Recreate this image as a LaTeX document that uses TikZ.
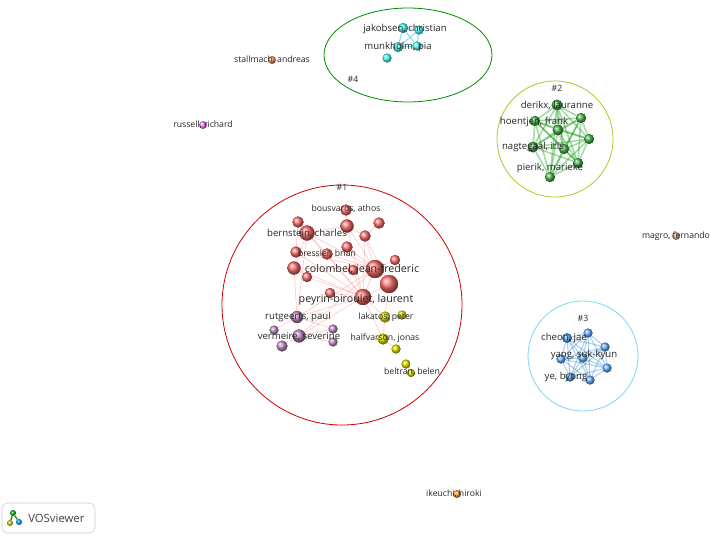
\documentclass[tikz,border=0pt]{standalone}
\usepackage{fontspec}
\setmainfont{Open Sans}
\begin{document}
\begin{tikzpicture}[x=0.75pt,y=-0.75pt,
  dot/.style={circle,inner sep=0pt,minimum size=#1*0.75pt,draw=none},
  lb/.style={font=\fontsize{6.5}{7}\selectfont,text=black!85,inner sep=0pt},
  lbm/.style={font=\fontsize{7.2}{8}\selectfont,text=black!85,inner sep=0pt},
  lbb/.style={font=\fontsize{8}{9}\selectfont,text=black!85,inner sep=0pt},
  red/.style={dot=#1,fill=red!60!white,ball color=red!55!white},
  pur/.style={dot=#1,ball color=violet!45!white},
  yel/.style={dot=#1,ball color=yellow!80!olive},
  grn/.style={dot=#1,ball color=green!60!black!70!white},
  blu/.style={dot=#1,ball color=cyan!50!blue!60!white},
  cya/.style={dot=#1,ball color=cyan!70!white},
  re/.style={red!40,opacity=0.5,line width=0.5pt},
  ge/.style={green!60!black,opacity=0.35,line width=1.2pt},
  be/.style={cyan!60!blue,opacity=0.35,line width=0.8pt},
  ce/.style={cyan!70,opacity=0.6,line width=0.8pt}]
\useasboundingbox (0,0) rectangle (710,537);
\fill[white] (0,0) rectangle (710,537);
% cluster outlines
\draw[red!80!black,line width=0.6pt] (342,305) circle[radius=120];
\draw[yellow!70!green!90!black,line width=0.6pt] (555,139) circle[radius=58];
\draw[cyan!50,line width=0.6pt] (583,356) circle[radius=55];
\draw[green!55!black,line width=0.6pt] (408,55) ellipse[x radius=84,y radius=47];
% nodes cluster 1
\node[red=11] (r1) at (346,210) {};
\node[red=11] (r2) at (298,222) {};
\node[red=13] (r3) at (347,226) {};
\node[red=11] (r4) at (379,223) {};
\node[red=15] (r5) at (307,233) {};
\node[red=11] (r6) at (365,236) {};
\node[red=11] (r7) at (347,247) {};
\node[red=11] (r8) at (296,252) {};
\node[red=11] (r9) at (327,254) {};
\node[red=10] (r10) at (395,260) {};
\node[red=18] (r11) at (375,269) {};
\node[red=13] (r12) at (294,268) {};
\node[red=10] (r13) at (307,277) {};
\node[red=10] (r14) at (353,270) {};
\node[red=18] (r15) at (389,284) {};
\node[red=10] (r16) at (330,293) {};
\node[red=16] (r17) at (363,297) {};
\node[pur=12] (p1) at (297,317) {};
\node[pur=9] (p2) at (274,330) {};
\node[pur=9] (p3) at (333,329) {};
\node[pur=13] (p4) at (299,336) {};
\node[pur=11] (p5) at (282,346) {};
\node[pur=9] (p6) at (333,342) {};
\node[yel=11] (y1) at (385,317) {};
\node[yel=9] (y2) at (402,315) {};
\node[yel=11] (y3) at (383,339) {};
\node[yel=9] (y4) at (396,349) {};
\node[yel=9] (y5) at (406,364) {};
\node[yel=8] (y6) at (411,373) {};
\begin{scope}[on background layer/.try]
\end{scope}
\foreach \a/\b in {r5/r3,r5/r9,r5/r12,r5/r2,r5/r17,r3/r6,r3/r11,r6/r11,r6/r15,r4/r6,r7/r11,r9/r11,r9/r17,r11/r17,r11/r15,r11/r12,r12/r17,r13/r17,r16/r17,r15/r17,r10/r11,r8/r11,r2/r8,r14/r17,r5/r11,r3/r17,r1/r3,r12/r13,r8/r17,r6/r17,r17/p1,r17/p4,r11/p1,r17/y1,r17/y3,r15/y1,r12/p1,p1/p4,p1/p2,p4/p5,p4/p6,p3/p4,p1/p3,y1/y3,y1/y2,y3/y4,r11/p4,r5/p1}
  \draw[re] (\a) -- (\b);
% redraw dots over lines
\foreach \n/\s/\c in {r1/11/red,r2/11/red,r3/13/red,r4/11/red,r5/15/red,r6/11/red,r7/11/red,r8/11/red,r9/11/red,r10/10/red,r11/18/red,r12/13/red,r13/10/red,r14/10/red,r15/18/red,r16/10/red,r17/16/red,p1/12/pur,p2/9/pur,p3/9/pur,p4/13/pur,p5/11/pur,p6/9/pur,y1/11/yel,y2/9/yel,y3/11/yel,y4/9/yel,y5/9/yel,y6/8/yel}
  \node[\c=\s] at (\n) {};
\node[lb] (l1) at (342,187) {\#1};
\node[lb] (l1a) at (346,209) {bousvaros, athos};
\node[lbm] (l1b) at (307,233) {bernstein, charles};
\node[lb] (l1c) at (327,254) {bressler, brian};
\node[lbb] (l1d) at (362,270) {colombel, jean-frederic};
\node[lbb] (l1e) at (356,300) {peyrin-biroulet, laurent};
\node[lbm] (l1f) at (298,317) {rutgeerts, paul};
\node[lbm] (l1g) at (299,337) {vermeire, severine};
\node[lb] (l1h) at (386,317) {lakatos, peter};
\node[lb] (l1i) at (385,338) {halfvarson, jonas};
\node[lb] (l1j) at (412,372) {beltran, belen};
% cluster 2
\coordinate (g0) at (0,0);
\node[grn=11] (g1) at (557,105) {};
\node[grn=10] (g2) at (581,118) {};
\node[grn=10] (g3) at (535,121) {};
\node[grn=11] (g4) at (558,130) {};
\node[grn=10] (g5) at (589,139) {};
\node[grn=11] (g6) at (533,147) {};
\node[grn=10] (g7) at (564,149) {};
\node[grn=10] (g8) at (578,163) {};
\node[grn=10] (g9) at (550,177) {};
\foreach \a/\b in {g1/g2,g1/g3,g1/g4,g1/g5,g1/g6,g1/g7,g1/g8,g1/g9,g2/g3,g2/g4,g2/g5,g2/g6,g2/g7,g2/g8,g2/g9,g3/g4,g3/g5,g3/g6,g3/g7,g3/g8,g3/g9,g4/g5,g4/g6,g4/g7,g4/g8,g4/g9,g5/g6,g5/g7,g5/g8,g5/g9,g6/g7,g6/g8,g6/g9,g7/g8,g7/g9,g8/g9}
  \draw[ge] (\a) -- (\b);
\foreach \n in {g1,g2,g3,g4,g5,g6,g7,g8,g9} \node[grn=10] at (\n) {};
\node[lb] (l2) at (557,88) {\#2};
\node[lbm] (l2a) at (557,105) {derikx, lauranne};
\node[lbm] (l2b) at (534,122) {hoentjen, frank};
\node[lbm] (l2c) at (533,147) {nagtegaal, iris};
\node[lbm] (l2d) at (550,168) {pierik, marieke};
% cluster 3
\node[blu=10] (b1) at (567,338) {};
\node[blu=9] (b2) at (588,333) {};
\node[blu=9] (b3) at (605,347) {};
\node[blu=9] (b4) at (561,359) {};
\node[blu=9] (b5) at (583,358) {};
\node[blu=9] (b6) at (607,368) {};
\node[blu=9] (b7) at (570,377) {};
\node[blu=9] (b8) at (590,380) {};
\foreach \a/\b in {b1/b2,b1/b3,b1/b4,b1/b5,b1/b6,b1/b7,b1/b8,b2/b3,b2/b4,b2/b5,b2/b6,b2/b7,b2/b8,b3/b4,b3/b5,b3/b6,b3/b7,b3/b8,b4/b5,b4/b6,b4/b7,b4/b8,b5/b6,b5/b7,b5/b8,b6/b7,b6/b8,b7/b8}
  \draw[be] (\a) -- (\b);
\foreach \n in {b1,b2,b3,b4,b5,b6,b7,b8} \node[blu=9] at (\n) {};
\node[lb] (l3) at (583,318) {\#3};
\node[lbm] (l3a) at (564,338) {cheon, jae};
\node[lbm] (l3b) at (584,355) {yang, suk-kyun};
\node[lbm] (l3c) at (566,377) {ye, byong};
% cluster 4
\node[cya=10] (c1) at (403,28) {};
\node[cya=9] (c2) at (419,30) {};
\node[cya=10] (c3) at (398,47) {};
\node[cya=9] (c4) at (417,46) {};
\node[cya=9] (c5) at (387,58) {};
\foreach \a/\b in {c1/c2,c1/c3,c1/c4,c2/c3,c2/c4,c3/c4}
  \draw[ce] (\a) -- (\b);
\foreach \n/\s in {c1/10,c2/9,c3/10,c4/9,c5/9} \node[cya=\s] at (\n) {};
\node[lbm] (l4a) at (405,29) {jakobsen, christian};
\node[lbm] (l4b) at (398,47) {munkholm, pia};
\node[lb] (l4) at (353,79) {\#4};
% isolated
\node[dot=8,ball color=red!40!orange!60!white] (s1) at (272,60) {};
\node[lb] (ls1) at (272,60) {stallmach, andreas};
\node[dot=8,ball color=magenta!50!white] (s2) at (203,125) {};
\node[lb] (ls2) at (203,125) {russell, richard};
\node[dot=8,ball color=brown!50!white] (s3) at (676,236) {};
\node[lb] (ls3) at (676,236) {magro, fernando};
\node[dot=8,ball color=orange!80!white] (s4) at (457,494) {};
\node[lb] (ls4) at (454,494) {ikeuchi, hiroki};
% logo
\draw[black!20,rounded corners=4pt] (2,503) rectangle (95,533);
\node[font=\fontsize{8.5}{9}\selectfont,text=black!75,anchor=west,inner sep=0pt] (logo) at (28,518) {VOSviewer};
\node[dot=6,ball color=green!70!black] (lg1) at (13,513) {};
\node[dot=6,ball color=cyan!60!blue] (lg2) at (19,522) {};
\node[dot=6,ball color=yellow!80!black] (lg3) at (10,523) {};
\draw[green!60!black,line width=1pt] (lg1) -- (lg2) (lg1) -- (lg3);
\end{tikzpicture}
\end{document}
